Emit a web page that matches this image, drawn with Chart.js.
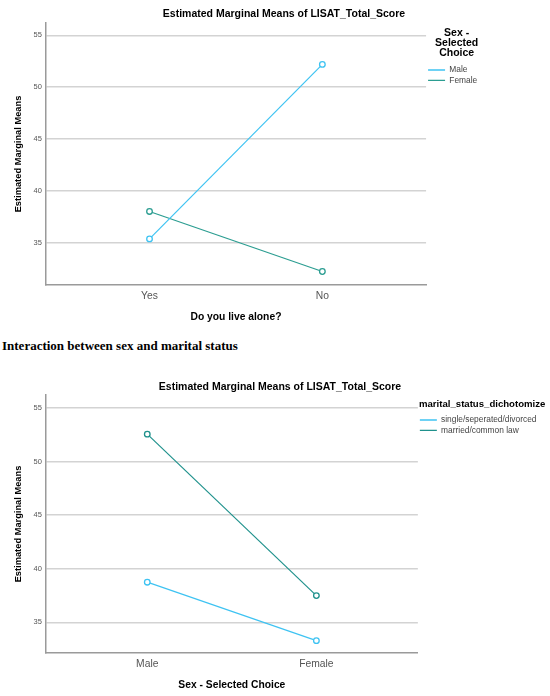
<!DOCTYPE html>
<html>
<head>
<meta charset="utf-8">
<script src="https://cdn.jsdelivr.net/npm/chart.js@4.4.0/dist/chart.umd.min.js"></script>
<style>
  body { margin: 0; background: #fff; width: 550px; height: 696px; overflow: hidden; position: relative; }
  canvas { position: absolute; left: 0; }
  #c1 { top: 0; }
  #c2 { top: 360px; }
  .heading { position: absolute; left: 2px; top: 338px; font: bold 13px "Liberation Serif", "Times New Roman", serif; color: #000; }
</style>
</head>
<body>
<canvas id="c1" width="550" height="328"></canvas>
<div class="heading">Interaction between sex and marital status</div>
<canvas id="c2" width="550" height="336"></canvas>
<script>
// estimated marginal means
const liveAloneCats = ['Yes', 'No'];
const maleByLiveAlone = [35.35, 52.2];
const femaleByLiveAlone = [38.0, 32.2];

const sexCats = ['Male', 'Female'];
const singleBySex = [38.75, 33.3];
const marriedBySex = [52.55, 37.5];

const yTicks = [35, 40, 45, 50, 55];

const blue = '#3ec3f2';
const teal = '#2b9d91';
const tealDark = '#1f918c';

Chart.defaults.font.family = 'Arial, "Liberation Sans", sans-serif';
Chart.defaults.animation = false;

// SPSS centres the title over a wider frame than the plot + legend
const titleShift = {
  id: 'titleShift',
  afterLayout(chart, args, opts) {
    chart.titleBlock.left += opts.dx;
    chart.titleBlock.right += opts.dx;
  }
};

function series(label, values, color) {
  return {
    label: label,
    data: values.map((v, i) => ({ x: i, y: v })),
    borderColor: color,
    backgroundColor: color,
    borderWidth: 1.2,
    pointRadius: 2.8,
    pointBorderWidth: 1.3,
    pointBackgroundColor: '#fff',
    pointBorderColor: color
  };
}

function emmChart(id, cats, datasets, s) {
  return new Chart(document.getElementById(id), {
    type: 'line',
    data: { datasets: datasets },
    plugins: [titleShift],
    options: {
      responsive: false,
      layout: { padding: { left: 4, right: s.padRight, top: 0, bottom: 0 } },
      scales: {
        x: {
          type: 'linear',
          min: -0.6,
          max: 1.6,
          grid: { display: false, drawTicks: false },
          border: { display: true, color: '#9a9a9a', width: 1.5 },
          ticks: {
            stepSize: 1,
            includeBounds: false,
            padding: 4.7,
            color: '#555',
            font: { size: 10.3 },
            callback: (v) => cats[v] ?? ''
          },
          title: {
            display: true,
            text: s.xTitle,
            color: '#000',
            font: { size: 10.3, weight: 'bold' },
            padding: { top: 4.1, bottom: 4.8 }
          }
        },
        y: {
          min: s.yMin,
          max: s.yMax,
          afterBuildTicks: (axis) => { axis.ticks = yTicks.map(v => ({ value: v })); },
          grid: { color: '#d3d3d3', lineWidth: 1.5, drawTicks: false },
          border: { display: true, color: '#9a9a9a', width: 1.5 },
          ticks: { padding: 4, color: '#555', font: { size: 7.5 } },
          title: {
            display: true,
            text: 'Estimated Marginal Means',
            color: '#000',
            font: { size: 9.3, weight: 'bold' },
            padding: { top: 8.7, bottom: 5.6 }
          }
        }
      },
      plugins: {
        titleShift: { dx: s.titleDx },
        title: {
          display: true,
          text: 'Estimated Marginal Means of LISAT_Total_Score',
          color: '#000',
          font: { size: 10.5, weight: 'bold' },
          padding: { top: s.titleTop, bottom: s.titleBottom }
        },
        legend: {
          position: 'right',
          align: 'start',
          title: {
            display: true,
            text: s.legendTitle,
            color: '#000',
            font: { size: s.legendTitleSize, weight: 'bold', lineHeight: s.legendTitleLH },
            padding: { top: s.legendTop, bottom: s.legendBottom }
          },
          labels: {
            usePointStyle: true,
            pointStyle: 'line',
            pointStyleWidth: 17,
            padding: 2,
            color: '#444',
            font: { size: 8.4 }
          }
        },
        tooltip: { enabled: false }
      }
    }
  });
}

emmChart('c1', liveAloneCats, [
  series('Male', maleByLiveAlone, blue),
  series('Female', femaleByLiveAlone, teal)
], {
  xTitle: 'Do you live alone?',
  yMin: 30.9, yMax: 56.2,
  padRight: 62.8,
  titleDx: 38.4, titleTop: 7.7, titleBottom: 2.7,
  legendTitle: ['Sex -', 'Selected', 'Choice'],
  legendTitleSize: 10.5, legendTitleLH: '10px',
  legendTop: 28, legendBottom: 25.8
});

emmChart('c2', sexCats, [
  series('single/seperated/divorced', singleBySex, blue),
  series('married/common law', marriedBySex, tealDark)
], {
  xTitle: 'Sex - Selected Choice',
  yMin: 32.15, yMax: 56.2,
  padRight: 3.5,
  titleDx: 4.75, titleTop: 21, titleBottom: 1.4,
  legendTitle: 'marital_status_dichotomize',
  legendTitleSize: 9.6, legendTitleLH: '12px',
  legendTop: 39.3, legendBottom: 2.5
});
</script>
</body>
</html>
